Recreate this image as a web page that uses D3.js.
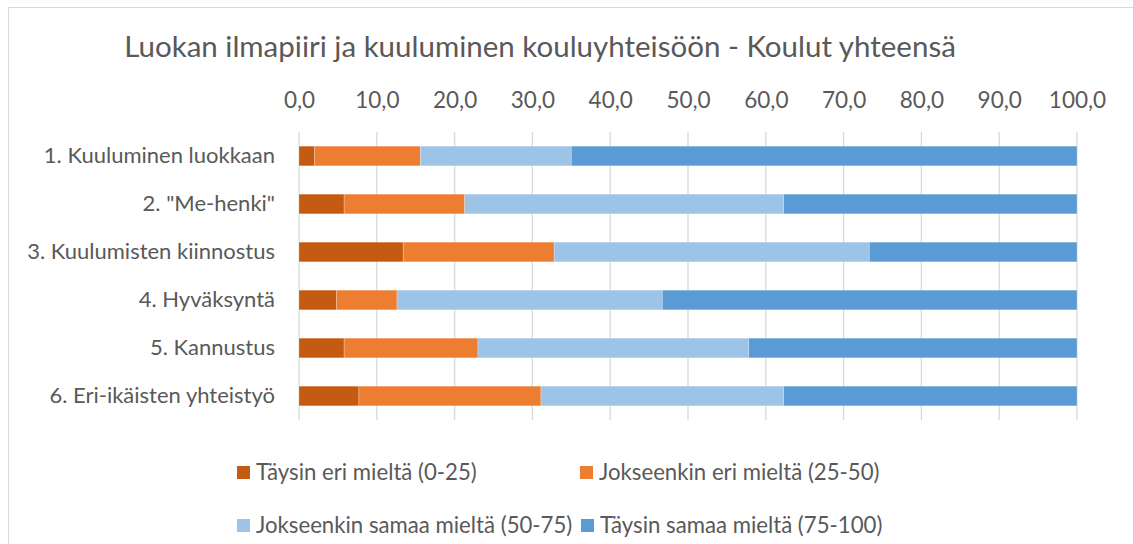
<!DOCTYPE html>
<html>
<head>
<meta charset="utf-8">
<script src="https://cdn.jsdelivr.net/npm/d3@7"></script>
<style>
  body { margin: 0; background: #fff; }
  text { font-family: Lato, "Open Sans", sans-serif; fill: #595959; }
</style>
</head>
<body>
<div id="chart"></div>
<script>
// Data
const categories = [
  "1. Kuuluminen luokkaan",
  "2. \"Me-henki\"",
  "3. Kuulumisten kiinnostus",
  "4. Hyväksyntä",
  "5. Kannustus",
  "6. Eri-ikäisten yhteistyö"
];
const seriesNames = [
  "Täysin eri mieltä (0-25)",
  "Jokseenkin eri mieltä (25-50)",
  "Jokseenkin samaa mieltä (50-75)",
  "Täysin samaa mieltä (75-100)"
];
const taysinEri     = [2.0, 5.8, 13.4, 4.8, 5.8, 7.7];
const jokseenkinEri = [13.6, 15.5, 19.4, 7.8, 17.2, 23.4];
const jokseenkinSam = [19.4, 41.0, 40.5, 34.1, 34.8, 31.2];
const taysinSam     = [65.0, 37.7, 26.7, 53.3, 42.2, 37.7];
const xTicks = [0, 10, 20, 30, 40, 50, 60, 70, 80, 90, 100];
const colors = ["#C55A11", "#ED7D31", "#9DC3E6", "#5B9BD5"];

const width = 1133;
const height = 544;
const marginLeft = 299;
const marginRight = 56;
const marginTop = 132;
const plotBottom = 420;

const rows = categories.map((c, i) => ({
  category: c,
  [seriesNames[0]]: taysinEri[i],
  [seriesNames[1]]: jokseenkinEri[i],
  [seriesNames[2]]: jokseenkinSam[i],
  [seriesNames[3]]: taysinSam[i]
}));

const stack = d3.stack().keys(seriesNames)(rows);

const x = d3.scaleLinear()
    .domain([0, 100])
    .range([marginLeft, width - marginRight]);

const y = d3.scaleBand()
    .domain(categories)
    .range([marginTop, plotBottom])
    .paddingInner(0.59)
    .paddingOuter(0.295);

const color = d3.scaleOrdinal().domain(seriesNames).range(colors);

const svg = d3.select("#chart").append("svg")
    .attr("width", width)
    .attr("height", height);

// chart area border
svg.append("rect")
    .attr("x", 8.5).attr("y", 7.5)
    .attr("width", width + 10).attr("height", height + 10)
    .attr("fill", "none")
    .attr("stroke", "#D9D9D9");

// title
svg.append("text")
    .attr("x", 540)
    .attr("y", 57)
    .attr("text-anchor", "middle")
    .style("font-size", "29.5px")
    .text("Luokan ilmapiiri ja kuuluminen kouluyhteisöön - Koulut yhteensä");

// gridlines
svg.append("g")
    .selectAll("line")
    .data(xTicks)
    .join("line")
    .attr("x1", d => x(d)).attr("x2", d => x(d))
    .attr("y1", marginTop).attr("y2", plotBottom)
    .attr("stroke", "#D9D9D9")
    .attr("stroke-width", 1.3);

// top axis
const xAxis = svg.append("g")
    .attr("transform", `translate(0,${marginTop})`)
    .call(d3.axisTop(x).tickValues(xTicks).tickSize(0).tickPadding(24)
      .tickFormat(d => d3.format(".1f")(d).replace(".", ",")));
xAxis.select(".domain").remove();
xAxis.selectAll("text").style("font-size", "22.5px").attr("fill", "#595959");

// category axis
const yAxis = svg.append("g")
    .attr("transform", `translate(${marginLeft},0)`)
    .call(d3.axisLeft(y).tickSize(0).tickPadding(24));
yAxis.select(".domain").remove();
yAxis.selectAll("text").style("font-size", "22px").attr("fill", "#595959");

// bars
svg.append("g")
    .selectAll("g")
    .data(stack)
    .join("g")
    .attr("fill", d => color(d.key))
    .selectAll("rect")
    .data(d => d)
    .join("rect")
    .attr("x", d => x(d[0]))
    .attr("y", d => y(d.data.category))
    .attr("width", d => x(d[1]) - x(d[0]))
    .attr("height", y.bandwidth())
    .attr("stroke", "#fff")
    .attr("stroke-opacity", 0.35)
    .attr("stroke-width", 0.7);

// legend
const legendPos = [[237, 472.5], [580, 472.5], [237, 525.5], [581, 525.5]];
const legend = svg.append("g")
    .selectAll("g")
    .data(seriesNames)
    .join("g")
    .attr("transform", (d, i) => `translate(${legendPos[i][0]},${legendPos[i][1]})`);
legend.append("rect")
    .attr("x", 0).attr("y", -6.5)
    .attr("width", 13).attr("height", 13)
    .attr("fill", d => color(d));
legend.append("text")
    .attr("x", 19)
    .attr("y", 7)
    .style("font-size", "22.2px")
    .text(d => d);
</script>
</body>
</html>
